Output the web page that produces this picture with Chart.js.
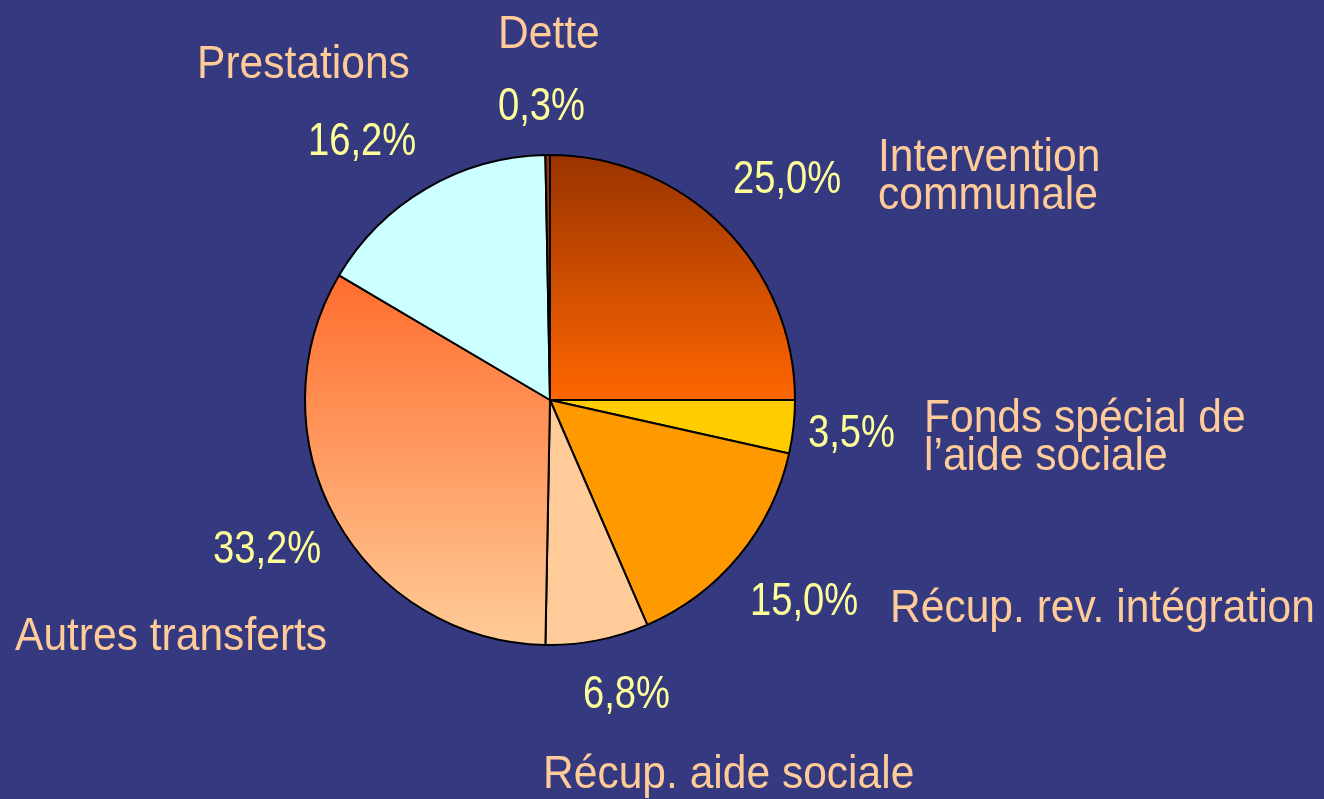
<!DOCTYPE html>
<html>
<head>
<meta charset="utf-8">
<script src="https://cdn.jsdelivr.net/npm/chart.js@4/dist/chart.umd.min.js"></script>
<style>
html,body{margin:0;padding:0;background:#353a80;}
#wrap{width:1324px;height:799px;position:relative;}
</style>
</head>
<body>
<div id="wrap"><canvas id="c" width="1324" height="799"></canvas></div>
<script>
const categories = ["Intervention communale","Fonds spécial de l’aide sociale","Récup. rev. intégration","Récup. aide sociale","Autres transferts","Prestations","Dette"];
const shares = [25.0, 3.5, 15.0, 6.8, 33.2, 16.2, 0.3];
const percentLabels = ["25,0%","3,5%","15,0%","6,8%","33,2%","16,2%","0,3%"];
const nameLines = [["Intervention","communale"],["Fonds spécial de","l’aide sociale"],["Récup. rev. intégration"],["Récup. aide sociale"],["Autres transferts"],["Prestations"],["Dette"]];

// label placement (text annotations): name x / baseline y, percent x / baseline y
const labelPlacement = [
  {nx:878, ny:171, px:733, py:193},
  {nx:924, ny:432, px:808, py:447},
  {nx:890, ny:622, px:750, py:615},
  {nx:543, ny:788, px:583, py:708},
  {nx:15,  ny:650, px:213, py:563},
  {nx:197, ny:78,  px:308, py:155},
  {nx:498, ny:48,  px:498, py:120}
];
const FONT = "46px 'Liberation Sans Narrow', 'Liberation Sans', Arial, sans-serif";

function sliceFill(ctx){
  const chart = ctx.chart;
  const i = ctx.dataIndex;
  const area = chart.chartArea;
  const solid = ["#a33300","#ffcc00","#ff9900","#ffcc99","#ff7a3a","#ccffff","#993300"];
  if(!area) return solid[i];
  const c = chart.ctx;
  const cy = (area.top+area.bottom)/2, r = (area.bottom-area.top)/2;
  if(i===0){
    const g = c.createLinearGradient(0, cy-r, 0, cy);
    g.addColorStop(0, "#993300");
    g.addColorStop(1, "#ff6600");
    return g;
  }
  if(i===4){
    const g = c.createLinearGradient(0, cy-r*0.55, 0, cy+r);
    g.addColorStop(0, "#ff6a2a");
    g.addColorStop(1, "#ffcc99");
    return g;
  }
  return solid[i];
}

function narrowText(c, t, x, y, sx){
  c.save();
  c.translate(x, y);
  c.scale(sx, 1);
  c.fillText(t, 0, 0);
  c.restore();
}

const labelPlugin = {
  id:'labels',
  afterDraw(chart){
    const c = chart.ctx;
    c.save();
    c.font = FONT;
    c.textAlign = 'left';
    c.textBaseline = 'alphabetic';
    labelPlacement.forEach((p,i)=>{
      c.fillStyle = "#ffcc99";
      nameLines[i].forEach((ln,k)=>narrowText(c, ln, p.nx, p.ny + k*38, 0.925));
      c.fillStyle = "#ffff99";
      narrowText(c, percentLabels[i], p.px, p.py, 0.83);
    });
    c.restore();
  }
};

new Chart(document.getElementById('c'), {
  type:'pie',
  data:{
    labels:categories,
    datasets:[{
      data:shares,
      backgroundColor:sliceFill,
      borderColor:"#000000",
      borderWidth:2
    }]
  },
  options:{
    responsive:false,
    animation:false,
    layout:{padding:{left:304,right:528,top:154,bottom:153}},
    plugins:{legend:{display:false},tooltip:{enabled:false}}
  },
  plugins:[labelPlugin]
});
</script>
</body>
</html>
